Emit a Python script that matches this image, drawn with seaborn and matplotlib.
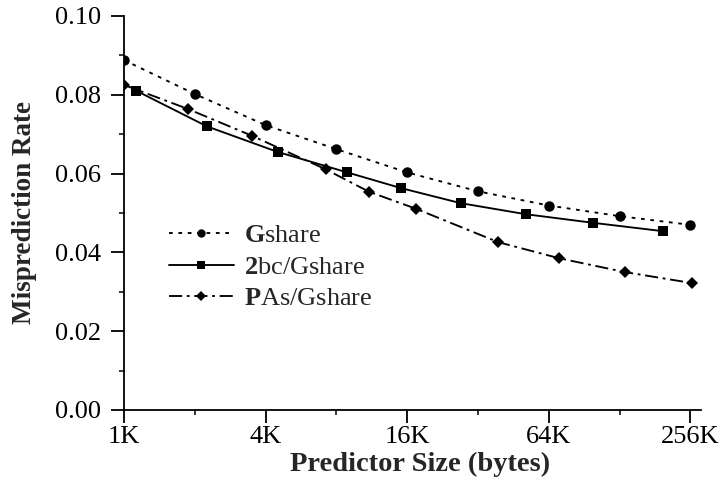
import matplotlib
matplotlib.use("Agg")
import matplotlib.pyplot as plt
import matplotlib.ticker as mticker
import seaborn as sns
import pandas as pd

# ---- data (sizes in KB, misprediction rates) ----
gshare_x = [1, 2, 4, 8, 16, 32, 64, 128, 256]
gshare_y = [0.0888, 0.0802, 0.0723, 0.0662, 0.0603, 0.0555, 0.0519, 0.0492, 0.0470]

bc_x = [1.13, 2.25, 4.5, 8.9, 15.1, 27, 51, 99, 195]
bc_y = [0.0810, 0.0720, 0.0655, 0.0603, 0.0563, 0.0525, 0.0497, 0.0475, 0.0454]

pas_x = [1.0, 1.87, 3.5, 7.2, 11, 17.4, 39, 71, 135, 261]
pas_y = [0.0825, 0.0764, 0.0696, 0.0611, 0.0554, 0.0511, 0.0426, 0.0385, 0.0350, 0.0322]

series_names = ["Gshare", "2bc/Gshare", "PAs/Gshare"]
legend_labels = [r"$\mathbf{G}$share", r"$\mathbf{2}$bc/Gshare", r"$\mathbf{P}$As/Gshare"]

x_ticks = [1, 4, 16, 64, 256]
x_tick_labels = ["1K", "4K", "16K", "64K", "256K"]
x_minor = [2, 8, 32, 128]
y_ticks = [0.00, 0.02, 0.04, 0.06, 0.08, 0.10]

sns.set_style("ticks")
plt.rcParams["font.family"] = ["Liberation Serif", "DejaVu Serif"]
plt.rcParams["mathtext.fontset"] = "custom"
plt.rcParams["mathtext.rm"] = "Liberation Serif"
plt.rcParams["mathtext.bf"] = "Liberation Serif:bold"

fig = plt.figure(figsize=(7.23, 4.82), dpi=100)
ax = fig.add_axes([124 / 723, 1 - 410 / 482, (701 - 124) / 723, (410 - 16) / 482])

df_g = pd.DataFrame({"x": gshare_x, "y": gshare_y})
df_b = pd.DataFrame({"x": bc_x, "y": bc_y})
df_p = pd.DataFrame({"x": pas_x, "y": pas_y})

lw = 1.35
sns.lineplot(data=df_g, x="x", y="y", ax=ax, color="black", lw=lw,
             marker="o", markersize=7.5, markeredgewidth=0,
             label=legend_labels[0])
sns.lineplot(data=df_b, x="x", y="y", ax=ax, color="black", lw=lw,
             marker="s", markersize=7.5, markeredgewidth=0,
             label=legend_labels[1])
sns.lineplot(data=df_p, x="x", y="y", ax=ax, color="black", lw=lw,
             marker="D", markersize=6, markeredgewidth=0,
             label=legend_labels[2])

lines = ax.get_lines()
lines[0].set_dashes((2, 3))
lines[2].set_dashes((7, 2.5, 1.5, 2.5))

ax.set_xscale("log", base=2)
ax.set_xlim(1, 2 ** 8.15)
ax.set_ylim(0, 0.10)
ax.xaxis.set_major_locator(mticker.FixedLocator(x_ticks))
ax.xaxis.set_major_formatter(mticker.FixedFormatter(x_tick_labels))
ax.xaxis.set_minor_locator(mticker.FixedLocator(x_minor))
ax.xaxis.set_minor_formatter(mticker.NullFormatter())
ax.yaxis.set_major_locator(mticker.FixedLocator(y_ticks))
ax.yaxis.set_major_formatter(mticker.FormatStrFormatter("%.2f"))
ax.yaxis.set_minor_locator(mticker.MultipleLocator(0.01))

for s in ["top", "right"]:
    ax.spines[s].set_visible(False)
for s in ["left", "bottom"]:
    ax.spines[s].set_linewidth(1.3)
    ax.spines[s].set_color("black")

ax.tick_params(axis="both", which="major", direction="out", length=9.5, width=1.3,
               labelsize=19, colors="black")
ax.tick_params(axis="both", which="minor", direction="out", length=3.5, width=1.3)
ax.tick_params(axis="y", which="major", pad=7)
ax.tick_params(axis="x", which="major", pad=2)

ax.set_xlabel("Predictor Size (bytes)", fontsize=20.5, fontweight="bold", labelpad=5)
ax.xaxis.set_label_coords((420 - 124) / (701 - 124), -0.105)
ax.set_ylabel("Misprediction Rate", fontsize=19.5, fontweight="bold", labelpad=13)

leg = ax.legend(loc="upper left", bbox_to_anchor=(169 / 723, 1 - 224 / 482),
                bbox_transform=fig.transFigure, frameon=False, fontsize=19,
                handlelength=2.45, handletextpad=0.4, labelspacing=0.3,
                borderpad=0, borderaxespad=0, markerscale=0.8)

fig.savefig("out.png", dpi=100)
